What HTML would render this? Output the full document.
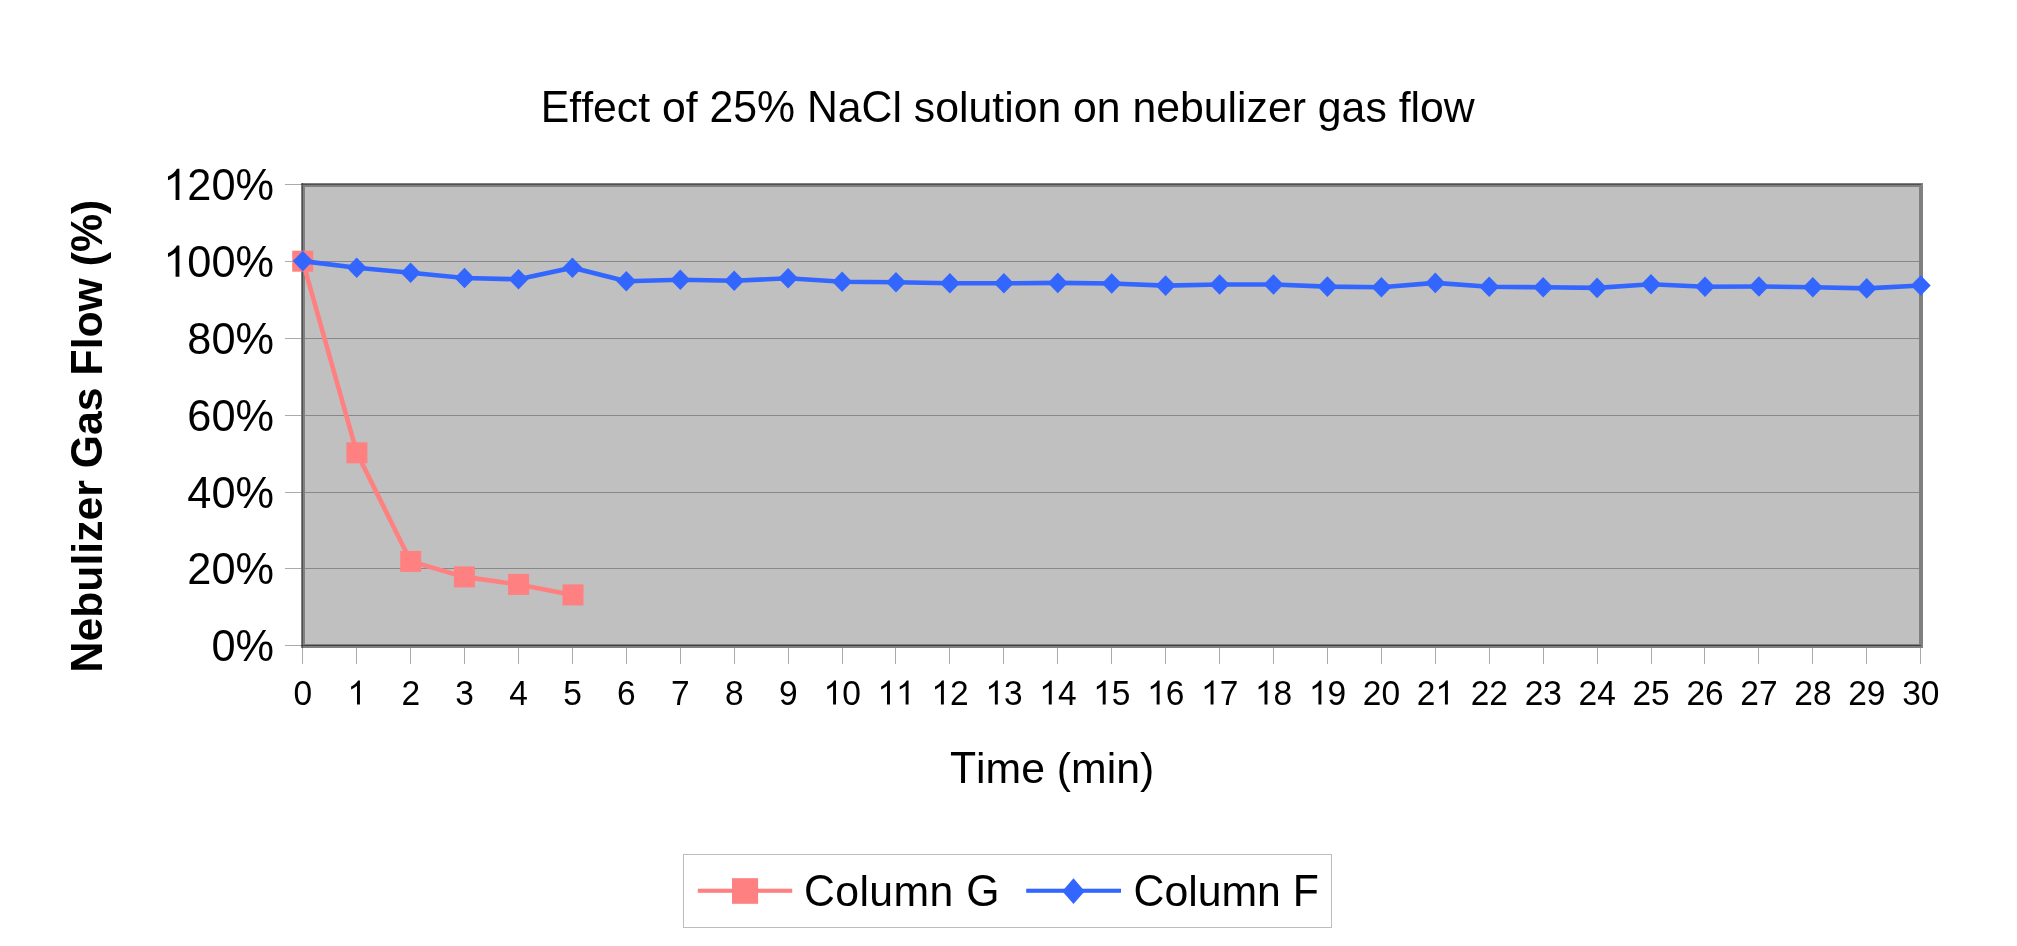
<!DOCTYPE html><html><head><meta charset="utf-8"><title>Effect of 25% NaCl solution on nebulizer gas flow</title><style>html,body{margin:0;padding:0;background:#fff;overflow:hidden;}svg{display:block;will-change:transform;}text{font-family:"Liberation Sans",sans-serif;fill:#000;}path{fill:#000;}</style></head><body>
<svg width="2017" height="946" viewBox="0 0 2017 946">
<rect x="0" y="0" width="2017" height="946" fill="#fff"/>
<text transform="translate(540.79,121.80) translate(0.00,0) scale(1,1.040)" font-size="42.75">E</text><text transform="translate(540.79,121.80) translate(28.51,0)" font-size="42.75">f</text><text transform="translate(540.79,121.80) translate(40.39,0)" font-size="42.75">f</text><text transform="translate(540.79,121.80) translate(52.27,0)" font-size="42.75">e</text><text transform="translate(540.79,121.80) translate(76.04,0)" font-size="42.75">c</text><text transform="translate(540.79,121.80) translate(97.42,0)" font-size="42.75">t</text><text transform="translate(540.79,121.80) translate(121.17,0)" font-size="42.75">o</text><text transform="translate(540.79,121.80) translate(144.95,0)" font-size="42.75">f</text><text transform="translate(540.79,121.80) translate(168.70,0) scale(1,1.040)" font-size="42.75">2</text><text transform="translate(540.79,121.80) translate(192.48,0) scale(1,1.040)" font-size="42.75">5</text><text transform="translate(540.79,121.80) translate(216.25,0) scale(1,1.040)" font-size="42.75">%</text><text transform="translate(540.79,121.80) translate(266.14,0) scale(1,1.040)" font-size="42.75">N</text><text transform="translate(540.79,121.80) translate(297.02,0)" font-size="42.75">a</text><text transform="translate(540.79,121.80) translate(320.79,0) scale(1,1.040)" font-size="42.75">C</text><text transform="translate(540.79,121.80) translate(351.66,0)" font-size="42.75">l</text><text transform="translate(540.79,121.80) translate(373.04,0)" font-size="42.75">s</text><text transform="translate(540.79,121.80) translate(394.41,0)" font-size="42.75">o</text><text transform="translate(540.79,121.80) translate(418.19,0)" font-size="42.75">l</text><text transform="translate(540.79,121.80) translate(427.69,0)" font-size="42.75">u</text><text transform="translate(540.79,121.80) translate(451.46,0)" font-size="42.75">t</text><text transform="translate(540.79,121.80) translate(463.34,0)" font-size="42.75">i</text><text transform="translate(540.79,121.80) translate(472.84,0)" font-size="42.75">o</text><text transform="translate(540.79,121.80) translate(496.61,0)" font-size="42.75">n</text><text transform="translate(540.79,121.80) translate(532.27,0)" font-size="42.75">o</text><text transform="translate(540.79,121.80) translate(556.04,0)" font-size="42.75">n</text><text transform="translate(540.79,121.80) translate(591.70,0)" font-size="42.75">n</text><text transform="translate(540.79,121.80) translate(615.47,0)" font-size="42.75">e</text><text transform="translate(540.79,121.80) translate(639.25,0)" font-size="42.75">b</text><text transform="translate(540.79,121.80) translate(663.02,0)" font-size="42.75">u</text><text transform="translate(540.79,121.80) translate(686.80,0)" font-size="42.75">l</text><text transform="translate(540.79,121.80) translate(696.29,0)" font-size="42.75">i</text><text transform="translate(540.79,121.80) translate(705.79,0)" font-size="42.75">z</text><text transform="translate(540.79,121.80) translate(727.17,0)" font-size="42.75">e</text><text transform="translate(540.79,121.80) translate(750.94,0)" font-size="42.75">r</text><text transform="translate(540.79,121.80) translate(777.06,0)" font-size="42.75">g</text><text transform="translate(540.79,121.80) translate(800.83,0)" font-size="42.75">a</text><text transform="translate(540.79,121.80) translate(824.61,0)" font-size="42.75">s</text><text transform="translate(540.79,121.80) translate(857.86,0)" font-size="42.75">f</text><text transform="translate(540.79,121.80) translate(869.74,0)" font-size="42.75">l</text><text transform="translate(540.79,121.80) translate(879.23,0)" font-size="42.75">o</text><text transform="translate(540.79,121.80) translate(903.01,0)" font-size="42.75">w</text>
<text transform="translate(102.00,672.46) rotate(-90) translate(0.00,0) scale(1,1.040)" font-size="42.75" font-weight="bold">N</text><text transform="translate(102.00,672.46) rotate(-90) translate(30.87,0)" font-size="42.75" font-weight="bold">e</text><text transform="translate(102.00,672.46) rotate(-90) translate(54.65,0)" font-size="42.75" font-weight="bold">b</text><text transform="translate(102.00,672.46) rotate(-90) translate(80.76,0)" font-size="42.75" font-weight="bold">u</text><text transform="translate(102.00,672.46) rotate(-90) translate(106.88,0)" font-size="42.75" font-weight="bold">l</text><text transform="translate(102.00,672.46) rotate(-90) translate(118.75,0)" font-size="42.75" font-weight="bold">i</text><text transform="translate(102.00,672.46) rotate(-90) translate(130.63,0)" font-size="42.75" font-weight="bold">z</text><text transform="translate(102.00,672.46) rotate(-90) translate(152.00,0)" font-size="42.75" font-weight="bold">e</text><text transform="translate(102.00,672.46) rotate(-90) translate(175.78,0)" font-size="42.75" font-weight="bold">r</text><text transform="translate(102.00,672.46) rotate(-90) translate(204.29,0) scale(1,1.040)" font-size="42.75" font-weight="bold">G</text><text transform="translate(102.00,672.46) rotate(-90) translate(237.55,0)" font-size="42.75" font-weight="bold">a</text><text transform="translate(102.00,672.46) rotate(-90) translate(261.32,0)" font-size="42.75" font-weight="bold">s</text><text transform="translate(102.00,672.46) rotate(-90) translate(296.97,0) scale(1,1.040)" font-size="42.75" font-weight="bold">F</text><text transform="translate(102.00,672.46) rotate(-90) translate(323.09,0)" font-size="42.75" font-weight="bold">l</text><text transform="translate(102.00,672.46) rotate(-90) translate(334.97,0)" font-size="42.75" font-weight="bold">o</text><text transform="translate(102.00,672.46) rotate(-90) translate(361.08,0)" font-size="42.75" font-weight="bold">w</text><text transform="translate(102.00,672.46) rotate(-90) translate(406.21,0)" font-size="42.75" font-weight="bold">(</text><text transform="translate(102.00,672.46) rotate(-90) translate(420.44,0) scale(1,1.040)" font-size="42.75" font-weight="bold">%</text><text transform="translate(102.00,672.46) rotate(-90) translate(458.46,0)" font-size="42.75" font-weight="bold">)</text>
<rect x="301" y="183" width="1622" height="465" fill="#c0c0c0"/>
<rect x="305" y="261" width="1614" height="1" fill="#888888"/>
<rect x="305" y="338" width="1614" height="1" fill="#888888"/>
<rect x="305" y="415" width="1614" height="1" fill="#888888"/>
<rect x="305" y="492" width="1614" height="1" fill="#888888"/>
<rect x="305" y="568" width="1614" height="1" fill="#888888"/>
<rect x="303" y="185" width="1618" height="461" fill="none" stroke="#808080" stroke-width="4"/>
<rect x="301" y="184" width="1620" height="1" fill="#505050"/>
<rect x="302" y="183" width="1" height="465" fill="#505050"/>
<rect x="301" y="645" width="1620" height="1" fill="#404040"/>
<rect x="285" y="184" width="16" height="1" fill="#aaaaaa"/>
<rect x="285" y="261" width="16" height="1" fill="#aaaaaa"/>
<rect x="285" y="338" width="16" height="1" fill="#aaaaaa"/>
<rect x="285" y="415" width="16" height="1" fill="#aaaaaa"/>
<rect x="285" y="492" width="16" height="1" fill="#aaaaaa"/>
<rect x="285" y="568" width="16" height="1" fill="#aaaaaa"/>
<rect x="285" y="645" width="16" height="1" fill="#aaaaaa"/>
<rect x="302" y="648" width="1" height="16" fill="#aaaaaa"/>
<rect x="356" y="648" width="1" height="16" fill="#aaaaaa"/>
<rect x="410" y="648" width="1" height="16" fill="#aaaaaa"/>
<rect x="464" y="648" width="1" height="16" fill="#aaaaaa"/>
<rect x="518" y="648" width="1" height="16" fill="#aaaaaa"/>
<rect x="572" y="648" width="1" height="16" fill="#aaaaaa"/>
<rect x="626" y="648" width="1" height="16" fill="#aaaaaa"/>
<rect x="680" y="648" width="1" height="16" fill="#aaaaaa"/>
<rect x="734" y="648" width="1" height="16" fill="#aaaaaa"/>
<rect x="788" y="648" width="1" height="16" fill="#aaaaaa"/>
<rect x="842" y="648" width="1" height="16" fill="#aaaaaa"/>
<rect x="895" y="648" width="1" height="16" fill="#aaaaaa"/>
<rect x="949" y="648" width="1" height="16" fill="#aaaaaa"/>
<rect x="1003" y="648" width="1" height="16" fill="#aaaaaa"/>
<rect x="1057" y="648" width="1" height="16" fill="#aaaaaa"/>
<rect x="1111" y="648" width="1" height="16" fill="#aaaaaa"/>
<rect x="1165" y="648" width="1" height="16" fill="#aaaaaa"/>
<rect x="1219" y="648" width="1" height="16" fill="#aaaaaa"/>
<rect x="1273" y="648" width="1" height="16" fill="#aaaaaa"/>
<rect x="1327" y="648" width="1" height="16" fill="#aaaaaa"/>
<rect x="1381" y="648" width="1" height="16" fill="#aaaaaa"/>
<rect x="1435" y="648" width="1" height="16" fill="#aaaaaa"/>
<rect x="1489" y="648" width="1" height="16" fill="#aaaaaa"/>
<rect x="1543" y="648" width="1" height="16" fill="#aaaaaa"/>
<rect x="1597" y="648" width="1" height="16" fill="#aaaaaa"/>
<rect x="1651" y="648" width="1" height="16" fill="#aaaaaa"/>
<rect x="1704" y="648" width="1" height="16" fill="#aaaaaa"/>
<rect x="1758" y="648" width="1" height="16" fill="#aaaaaa"/>
<rect x="1812" y="648" width="1" height="16" fill="#aaaaaa"/>
<rect x="1866" y="648" width="1" height="16" fill="#aaaaaa"/>
<rect x="1920" y="648" width="1" height="16" fill="#aaaaaa"/>
<path transform="translate(274.00,199.90) translate(-110.74,0) scale(0.02114,-0.02114)" d="M763 0L583 0L583 1147C540 1106 483 1064 413 1023C343 982 279 951 223 930L223 1104C324 1151 412 1209 487 1276C562 1343 615 1408 647 1472L763 1472Z"/><text transform="translate(274.00,199.90) translate(-86.66,0) scale(1,1.040)" font-size="43.30">2</text><text transform="translate(274.00,199.90) translate(-62.58,0) scale(1,1.040)" font-size="43.30">0</text><text transform="translate(274.00,199.90) translate(-38.50,0) scale(1,1.040)" font-size="43.30">%</text>
<path transform="translate(274.00,276.70) translate(-110.74,0) scale(0.02114,-0.02114)" d="M763 0L583 0L583 1147C540 1106 483 1064 413 1023C343 982 279 951 223 930L223 1104C324 1151 412 1209 487 1276C562 1343 615 1408 647 1472L763 1472Z"/><text transform="translate(274.00,276.70) translate(-86.66,0) scale(1,1.040)" font-size="43.30">0</text><text transform="translate(274.00,276.70) translate(-62.58,0) scale(1,1.040)" font-size="43.30">0</text><text transform="translate(274.00,276.70) translate(-38.50,0) scale(1,1.040)" font-size="43.30">%</text>
<text transform="translate(274.00,353.80) translate(-86.66,0) scale(1,1.040)" font-size="43.30">8</text><text transform="translate(274.00,353.80) translate(-62.58,0) scale(1,1.040)" font-size="43.30">0</text><text transform="translate(274.00,353.80) translate(-38.50,0) scale(1,1.040)" font-size="43.30">%</text>
<text transform="translate(274.00,430.90) translate(-86.66,0) scale(1,1.040)" font-size="43.30">6</text><text transform="translate(274.00,430.90) translate(-62.58,0) scale(1,1.040)" font-size="43.30">0</text><text transform="translate(274.00,430.90) translate(-38.50,0) scale(1,1.040)" font-size="43.30">%</text>
<text transform="translate(274.00,507.70) translate(-86.66,0) scale(1,1.040)" font-size="43.30">4</text><text transform="translate(274.00,507.70) translate(-62.58,0) scale(1,1.040)" font-size="43.30">0</text><text transform="translate(274.00,507.70) translate(-38.50,0) scale(1,1.040)" font-size="43.30">%</text>
<text transform="translate(274.00,584.00) translate(-86.66,0) scale(1,1.040)" font-size="43.30">2</text><text transform="translate(274.00,584.00) translate(-62.58,0) scale(1,1.040)" font-size="43.30">0</text><text transform="translate(274.00,584.00) translate(-38.50,0) scale(1,1.040)" font-size="43.30">%</text>
<text transform="translate(274.00,660.90) translate(-62.58,0) scale(1,1.040)" font-size="43.30">0</text><text transform="translate(274.00,660.90) translate(-38.50,0) scale(1,1.040)" font-size="43.30">%</text>
<text transform="translate(302.85,704.60) translate(-9.32,0) scale(1,1.040)" font-size="33.50">0</text>
<path transform="translate(356.78,704.60) translate(-9.32,0) scale(0.01636,-0.01636)" d="M763 0L583 0L583 1147C540 1106 483 1064 413 1023C343 982 279 951 223 930L223 1104C324 1151 412 1209 487 1276C562 1343 615 1408 647 1472L763 1472Z"/>
<text transform="translate(410.71,704.60) translate(-9.32,0) scale(1,1.040)" font-size="33.50">2</text>
<text transform="translate(464.64,704.60) translate(-9.32,0) scale(1,1.040)" font-size="33.50">3</text>
<text transform="translate(518.57,704.60) translate(-9.32,0) scale(1,1.040)" font-size="33.50">4</text>
<text transform="translate(572.50,704.60) translate(-9.32,0) scale(1,1.040)" font-size="33.50">5</text>
<text transform="translate(626.43,704.60) translate(-9.32,0) scale(1,1.040)" font-size="33.50">6</text>
<text transform="translate(680.37,704.60) translate(-9.32,0) scale(1,1.040)" font-size="33.50">7</text>
<text transform="translate(734.30,704.60) translate(-9.32,0) scale(1,1.040)" font-size="33.50">8</text>
<text transform="translate(788.23,704.60) translate(-9.32,0) scale(1,1.040)" font-size="33.50">9</text>
<path transform="translate(842.16,704.60) translate(-18.63,0) scale(0.01636,-0.01636)" d="M763 0L583 0L583 1147C540 1106 483 1064 413 1023C343 982 279 951 223 930L223 1104C324 1151 412 1209 487 1276C562 1343 615 1408 647 1472L763 1472Z"/><text transform="translate(842.16,704.60) translate(0.00,0) scale(1,1.040)" font-size="33.50">0</text>
<path transform="translate(896.09,704.60) translate(-18.63,0) scale(0.01636,-0.01636)" d="M763 0L583 0L583 1147C540 1106 483 1064 413 1023C343 982 279 951 223 930L223 1104C324 1151 412 1209 487 1276C562 1343 615 1408 647 1472L763 1472Z"/><path transform="translate(896.09,704.60) translate(0.00,0) scale(0.01636,-0.01636)" d="M763 0L583 0L583 1147C540 1106 483 1064 413 1023C343 982 279 951 223 930L223 1104C324 1151 412 1209 487 1276C562 1343 615 1408 647 1472L763 1472Z"/>
<path transform="translate(950.02,704.60) translate(-18.63,0) scale(0.01636,-0.01636)" d="M763 0L583 0L583 1147C540 1106 483 1064 413 1023C343 982 279 951 223 930L223 1104C324 1151 412 1209 487 1276C562 1343 615 1408 647 1472L763 1472Z"/><text transform="translate(950.02,704.60) translate(0.00,0) scale(1,1.040)" font-size="33.50">2</text>
<path transform="translate(1003.95,704.60) translate(-18.63,0) scale(0.01636,-0.01636)" d="M763 0L583 0L583 1147C540 1106 483 1064 413 1023C343 982 279 951 223 930L223 1104C324 1151 412 1209 487 1276C562 1343 615 1408 647 1472L763 1472Z"/><text transform="translate(1003.95,704.60) translate(0.00,0) scale(1,1.040)" font-size="33.50">3</text>
<path transform="translate(1057.88,704.60) translate(-18.63,0) scale(0.01636,-0.01636)" d="M763 0L583 0L583 1147C540 1106 483 1064 413 1023C343 982 279 951 223 930L223 1104C324 1151 412 1209 487 1276C562 1343 615 1408 647 1472L763 1472Z"/><text transform="translate(1057.88,704.60) translate(0.00,0) scale(1,1.040)" font-size="33.50">4</text>
<path transform="translate(1111.81,704.60) translate(-18.63,0) scale(0.01636,-0.01636)" d="M763 0L583 0L583 1147C540 1106 483 1064 413 1023C343 982 279 951 223 930L223 1104C324 1151 412 1209 487 1276C562 1343 615 1408 647 1472L763 1472Z"/><text transform="translate(1111.81,704.60) translate(0.00,0) scale(1,1.040)" font-size="33.50">5</text>
<path transform="translate(1165.74,704.60) translate(-18.63,0) scale(0.01636,-0.01636)" d="M763 0L583 0L583 1147C540 1106 483 1064 413 1023C343 982 279 951 223 930L223 1104C324 1151 412 1209 487 1276C562 1343 615 1408 647 1472L763 1472Z"/><text transform="translate(1165.74,704.60) translate(0.00,0) scale(1,1.040)" font-size="33.50">6</text>
<path transform="translate(1219.67,704.60) translate(-18.63,0) scale(0.01636,-0.01636)" d="M763 0L583 0L583 1147C540 1106 483 1064 413 1023C343 982 279 951 223 930L223 1104C324 1151 412 1209 487 1276C562 1343 615 1408 647 1472L763 1472Z"/><text transform="translate(1219.67,704.60) translate(0.00,0) scale(1,1.040)" font-size="33.50">7</text>
<path transform="translate(1273.60,704.60) translate(-18.63,0) scale(0.01636,-0.01636)" d="M763 0L583 0L583 1147C540 1106 483 1064 413 1023C343 982 279 951 223 930L223 1104C324 1151 412 1209 487 1276C562 1343 615 1408 647 1472L763 1472Z"/><text transform="translate(1273.60,704.60) translate(0.00,0) scale(1,1.040)" font-size="33.50">8</text>
<path transform="translate(1327.54,704.60) translate(-18.63,0) scale(0.01636,-0.01636)" d="M763 0L583 0L583 1147C540 1106 483 1064 413 1023C343 982 279 951 223 930L223 1104C324 1151 412 1209 487 1276C562 1343 615 1408 647 1472L763 1472Z"/><text transform="translate(1327.54,704.60) translate(0.00,0) scale(1,1.040)" font-size="33.50">9</text>
<text transform="translate(1381.47,704.60) translate(-18.63,0) scale(1,1.040)" font-size="33.50">2</text><text transform="translate(1381.47,704.60) translate(0.00,0) scale(1,1.040)" font-size="33.50">0</text>
<text transform="translate(1435.40,704.60) translate(-18.63,0) scale(1,1.040)" font-size="33.50">2</text><path transform="translate(1435.40,704.60) translate(0.00,0) scale(0.01636,-0.01636)" d="M763 0L583 0L583 1147C540 1106 483 1064 413 1023C343 982 279 951 223 930L223 1104C324 1151 412 1209 487 1276C562 1343 615 1408 647 1472L763 1472Z"/>
<text transform="translate(1489.33,704.60) translate(-18.63,0) scale(1,1.040)" font-size="33.50">2</text><text transform="translate(1489.33,704.60) translate(0.00,0) scale(1,1.040)" font-size="33.50">2</text>
<text transform="translate(1543.26,704.60) translate(-18.63,0) scale(1,1.040)" font-size="33.50">2</text><text transform="translate(1543.26,704.60) translate(0.00,0) scale(1,1.040)" font-size="33.50">3</text>
<text transform="translate(1597.19,704.60) translate(-18.63,0) scale(1,1.040)" font-size="33.50">2</text><text transform="translate(1597.19,704.60) translate(0.00,0) scale(1,1.040)" font-size="33.50">4</text>
<text transform="translate(1651.12,704.60) translate(-18.63,0) scale(1,1.040)" font-size="33.50">2</text><text transform="translate(1651.12,704.60) translate(0.00,0) scale(1,1.040)" font-size="33.50">5</text>
<text transform="translate(1705.05,704.60) translate(-18.63,0) scale(1,1.040)" font-size="33.50">2</text><text transform="translate(1705.05,704.60) translate(0.00,0) scale(1,1.040)" font-size="33.50">6</text>
<text transform="translate(1758.98,704.60) translate(-18.63,0) scale(1,1.040)" font-size="33.50">2</text><text transform="translate(1758.98,704.60) translate(0.00,0) scale(1,1.040)" font-size="33.50">7</text>
<text transform="translate(1812.91,704.60) translate(-18.63,0) scale(1,1.040)" font-size="33.50">2</text><text transform="translate(1812.91,704.60) translate(0.00,0) scale(1,1.040)" font-size="33.50">8</text>
<text transform="translate(1866.84,704.60) translate(-18.63,0) scale(1,1.040)" font-size="33.50">2</text><text transform="translate(1866.84,704.60) translate(0.00,0) scale(1,1.040)" font-size="33.50">9</text>
<text transform="translate(1920.77,704.60) translate(-18.63,0) scale(1,1.040)" font-size="33.50">3</text><text transform="translate(1920.77,704.60) translate(0.00,0) scale(1,1.040)" font-size="33.50">0</text>
<text transform="translate(949.94,782.80) translate(0.00,0) scale(1,1.040)" font-size="42.75">T</text><text transform="translate(949.94,782.80) translate(26.11,0)" font-size="42.75">i</text><text transform="translate(949.94,782.80) translate(35.61,0)" font-size="42.75">m</text><text transform="translate(949.94,782.80) translate(71.22,0)" font-size="42.75">e</text><text transform="translate(949.94,782.80) translate(106.88,0)" font-size="42.75">(</text><text transform="translate(949.94,782.80) translate(121.11,0)" font-size="42.75">m</text><text transform="translate(949.94,782.80) translate(156.72,0)" font-size="42.75">i</text><text transform="translate(949.94,782.80) translate(166.22,0)" font-size="42.75">n</text><text transform="translate(949.94,782.80) translate(190.00,0)" font-size="42.75">)</text>
<polyline points="302.7,261.2 356.9,452.8 410.7,561.4 464.4,576.9 518.6,584.4 573.0,594.9" fill="none" stroke="#ff8080" stroke-width="4.6"/>
<rect x="292.2" y="250.7" width="21" height="21" fill="#ff8080"/>
<rect x="346.4" y="442.3" width="21" height="21" fill="#ff8080"/>
<rect x="400.2" y="550.9" width="21" height="21" fill="#ff8080"/>
<rect x="453.9" y="566.4" width="21" height="21" fill="#ff8080"/>
<rect x="508.1" y="573.9" width="21" height="21" fill="#ff8080"/>
<rect x="562.5" y="584.4" width="21" height="21" fill="#ff8080"/>
<polyline points="302.8,261.1 356.7,267.7 410.6,272.7 464.5,278.0 518.5,279.3 572.4,267.7 626.3,281.3 680.3,279.8 734.2,280.8 788.1,278.2 842.1,281.7 896.0,282.3 949.9,283.3 1003.9,283.3 1057.8,282.9 1111.7,283.5 1165.6,285.6 1219.6,284.5 1273.5,284.5 1327.4,286.6 1381.4,287.2 1435.3,282.9 1489.2,286.7 1543.2,287.3 1597.1,287.9 1651.0,284.2 1705.0,286.8 1758.9,286.5 1812.8,287.2 1866.7,288.4 1920.7,285.5" fill="none" stroke="#3366ff" stroke-width="4.6"/>
<path d="M302.8 250.8L312.8 261.1L302.8 271.4L292.8 261.1Z" style="fill:#3366ff"/>
<path d="M356.7 257.4L366.7 267.7L356.7 278.0L346.7 267.7Z" style="fill:#3366ff"/>
<path d="M410.6 262.4L420.6 272.7L410.6 283.0L400.6 272.7Z" style="fill:#3366ff"/>
<path d="M464.5 267.7L474.5 278.0L464.5 288.3L454.5 278.0Z" style="fill:#3366ff"/>
<path d="M518.5 269.0L528.5 279.3L518.5 289.6L508.5 279.3Z" style="fill:#3366ff"/>
<path d="M572.4 257.4L582.4 267.7L572.4 278.0L562.4 267.7Z" style="fill:#3366ff"/>
<path d="M626.3 271.0L636.3 281.3L626.3 291.6L616.3 281.3Z" style="fill:#3366ff"/>
<path d="M680.3 269.5L690.3 279.8L680.3 290.1L670.3 279.8Z" style="fill:#3366ff"/>
<path d="M734.2 270.5L744.2 280.8L734.2 291.1L724.2 280.8Z" style="fill:#3366ff"/>
<path d="M788.1 267.9L798.1 278.2L788.1 288.5L778.1 278.2Z" style="fill:#3366ff"/>
<path d="M842.1 271.4L852.1 281.7L842.1 292.0L832.1 281.7Z" style="fill:#3366ff"/>
<path d="M896.0 272.0L906.0 282.3L896.0 292.6L886.0 282.3Z" style="fill:#3366ff"/>
<path d="M949.9 273.0L959.9 283.3L949.9 293.6L939.9 283.3Z" style="fill:#3366ff"/>
<path d="M1003.9 273.0L1013.9 283.3L1003.9 293.6L993.9 283.3Z" style="fill:#3366ff"/>
<path d="M1057.8 272.6L1067.8 282.9L1057.8 293.2L1047.8 282.9Z" style="fill:#3366ff"/>
<path d="M1111.7 273.2L1121.7 283.5L1111.7 293.8L1101.7 283.5Z" style="fill:#3366ff"/>
<path d="M1165.6 275.3L1175.6 285.6L1165.6 295.9L1155.6 285.6Z" style="fill:#3366ff"/>
<path d="M1219.6 274.2L1229.6 284.5L1219.6 294.8L1209.6 284.5Z" style="fill:#3366ff"/>
<path d="M1273.5 274.2L1283.5 284.5L1273.5 294.8L1263.5 284.5Z" style="fill:#3366ff"/>
<path d="M1327.4 276.3L1337.4 286.6L1327.4 296.9L1317.4 286.6Z" style="fill:#3366ff"/>
<path d="M1381.4 276.9L1391.4 287.2L1381.4 297.5L1371.4 287.2Z" style="fill:#3366ff"/>
<path d="M1435.3 272.6L1445.3 282.9L1435.3 293.2L1425.3 282.9Z" style="fill:#3366ff"/>
<path d="M1489.2 276.4L1499.2 286.7L1489.2 297.0L1479.2 286.7Z" style="fill:#3366ff"/>
<path d="M1543.2 277.0L1553.2 287.3L1543.2 297.6L1533.2 287.3Z" style="fill:#3366ff"/>
<path d="M1597.1 277.6L1607.1 287.9L1597.1 298.2L1587.1 287.9Z" style="fill:#3366ff"/>
<path d="M1651.0 273.9L1661.0 284.2L1651.0 294.5L1641.0 284.2Z" style="fill:#3366ff"/>
<path d="M1705.0 276.5L1715.0 286.8L1705.0 297.1L1695.0 286.8Z" style="fill:#3366ff"/>
<path d="M1758.9 276.2L1768.9 286.5L1758.9 296.8L1748.9 286.5Z" style="fill:#3366ff"/>
<path d="M1812.8 276.9L1822.8 287.2L1812.8 297.5L1802.8 287.2Z" style="fill:#3366ff"/>
<path d="M1866.7 278.1L1876.7 288.4L1866.7 298.7L1856.7 288.4Z" style="fill:#3366ff"/>
<path d="M1920.7 275.2L1930.7 285.5L1920.7 295.8L1910.7 285.5Z" style="fill:#3366ff"/>
<rect x="683.5" y="854.5" width="648" height="73" fill="#fff" stroke="#bdbdbd" stroke-width="1"/>
<rect x="697.8" y="888.7" width="94.4" height="4.1" fill="#ff8080"/>
<rect x="732" y="878.2" width="26.1" height="25.6" fill="#ff8080"/>
<text transform="translate(803.93,905.60) translate(0.00,0) scale(1,1.040)" font-size="42.75">C</text><text transform="translate(803.93,905.60) translate(31.30,0)" font-size="42.75">o</text><text transform="translate(803.93,905.60) translate(55.51,0)" font-size="42.75">l</text><text transform="translate(803.93,905.60) translate(65.44,0)" font-size="42.75">u</text><text transform="translate(803.93,905.60) translate(89.64,0)" font-size="42.75">m</text><text transform="translate(803.93,905.60) translate(125.68,0)" font-size="42.75">n</text><text transform="translate(803.93,905.60) translate(162.20,0) scale(1,1.040)" font-size="42.75">G</text>
<rect x="1026.2" y="888.7" width="94.8" height="4.1" fill="#3366ff"/>
<path d="M1073.5 878.3L1084.7 891.2L1073.5 904.1L1062.3 891.2Z" style="fill:#3366ff"/>
<text transform="translate(1133.53,905.60) translate(0.00,0) scale(1,1.040)" font-size="42.75">C</text><text transform="translate(1133.53,905.60) translate(30.87,0)" font-size="42.75">o</text><text transform="translate(1133.53,905.60) translate(54.65,0)" font-size="42.75">l</text><text transform="translate(1133.53,905.60) translate(64.15,0)" font-size="42.75">u</text><text transform="translate(1133.53,905.60) translate(87.92,0)" font-size="42.75">m</text><text transform="translate(1133.53,905.60) translate(123.53,0)" font-size="42.75">n</text><text transform="translate(1133.53,905.60) translate(159.19,0) scale(1,1.040)" font-size="42.75">F</text>
</svg></body></html>
